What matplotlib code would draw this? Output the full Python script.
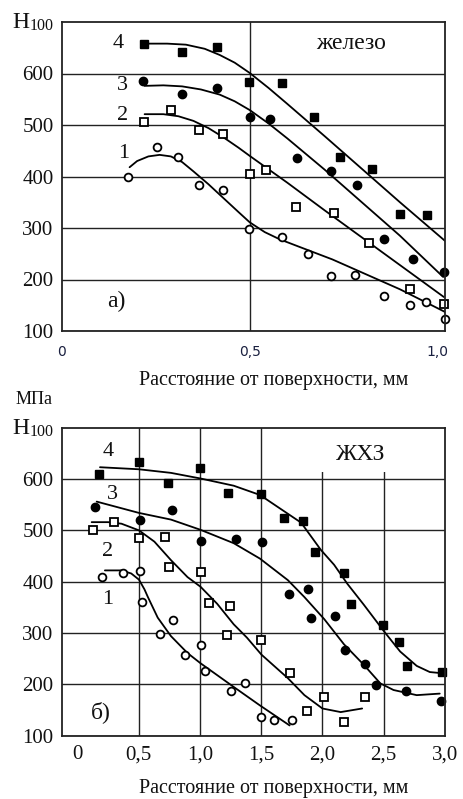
import matplotlib
matplotlib.use("Agg")
import matplotlib.pyplot as plt
from matplotlib.patches import Rectangle

# ---------------- Panel a) железо ----------------
a_x4 = [0.218, 0.319, 0.412, 0.498, 0.586, 0.672, 0.741, 0.825, 0.899, 0.972]
a_y4 = [657, 642, 651, 583, 582, 516, 437, 414, 328, 326]
a_x3 = [0.216, 0.319, 0.412, 0.500, 0.555, 0.627, 0.717, 0.786, 0.857, 0.936, 1.017]
a_y3 = [586, 561, 571, 516, 512, 436, 411, 383, 279, 240, 214]
a_x2 = [0.218, 0.289, 0.365, 0.429, 0.500, 0.542, 0.624, 0.724, 0.817, 0.926, 1.017]
a_y2 = [506, 529, 490, 482, 405, 413, 340, 329, 270, 181, 152]
a_x1 = [0.177, 0.253, 0.309, 0.364, 0.430, 0.497, 0.586, 0.655, 0.717, 0.779, 0.857, 0.927, 0.970, 1.020]
a_y1 = [400, 458, 438, 383, 373, 298, 282, 249, 207, 209, 167, 150, 156, 124]

a_c4x = [0.22, 0.28, 0.33, 0.38, 0.42, 0.46, 0.50, 0.55, 0.60, 0.70, 0.80, 0.90, 1.02]
a_c4y = [658, 658, 656, 648, 636, 621, 601, 572, 541, 478, 414, 350, 275]
a_c3x = [0.22, 0.27, 0.32, 0.37, 0.42, 0.46, 0.50, 0.55, 0.60, 0.70, 0.80, 0.90, 1.015]
a_c3y = [576, 577, 575, 569, 559, 546, 529, 503, 474, 413, 349, 285, 205]
a_c2x = [0.22, 0.27, 0.31, 0.35, 0.39, 0.43, 0.47, 0.50, 0.55, 0.60, 0.70, 0.80, 0.90, 1.017]
a_c2y = [521, 521, 517, 508, 494, 476, 456, 440, 414, 388, 334, 281, 228, 166]
a_c1x = [0.18, 0.20, 0.23, 0.26, 0.29, 0.32, 0.35, 0.39, 0.43, 0.47, 0.50, 0.54, 0.58, 0.63, 0.72, 0.81, 0.90, 1.02]
a_c1y = [418, 430, 439, 442, 439, 428, 410, 385, 358, 331, 311, 292, 278, 264, 239, 210, 181, 137]

a_xticks = [0, 0.5, 1.0]
a_xticklabels = ["0", "0,5", "1,0"]
a_xgrid = [0.5]
yticks = [100, 200, 300, 400, 500, 600]

# ---------------- Panel б) ЖХЗ ----------------
b_x4 = [0.174, 0.505, 0.742, 1.004, 1.227, 1.502, 1.683, 1.845, 1.939, 2.176, 2.235, 2.492, 2.621, 2.688, 2.977]
b_y4 = [609, 633, 593, 622, 572, 570, 525, 519, 457, 417, 357, 315, 283, 236, 225]
b_x3 = [0.147, 0.511, 0.772, 1.006, 1.295, 1.508, 1.726, 1.885, 1.906, 2.104, 2.181, 2.351, 2.440, 2.682, 2.971]
b_y3 = [545, 521, 540, 480, 484, 477, 376, 386, 329, 333, 266, 240, 198, 188, 168]
b_x2 = [0.131, 0.301, 0.505, 0.713, 0.748, 1.012, 1.071, 1.243, 1.222, 1.500, 1.736, 1.877, 2.009, 2.176, 2.346]
b_y2 = [501, 516, 486, 488, 429, 418, 359, 353, 296, 287, 222, 149, 175, 126, 175]
b_x1 = [0.204, 0.370, 0.511, 0.527, 0.675, 0.780, 0.875, 1.009, 1.039, 1.251, 1.368, 1.502, 1.605, 1.753]
b_y1 = [409, 417, 421, 361, 299, 326, 257, 277, 226, 188, 203, 137, 130, 130]

b_c4x = [0.185, 0.503, 0.764, 1.006, 1.276, 1.49, 1.664, 1.826, 1.987, 2.095, 2.203, 2.338, 2.5, 2.634, 2.769, 2.876, 2.963]
b_c4y = [623, 619, 612, 601, 587, 569, 541, 515, 462, 433, 396, 355, 304, 264, 236, 224, 222]
b_c3x = [0.158, 0.503, 0.764, 1.006, 1.276, 1.49, 1.718, 1.853, 2.015, 2.176, 2.338, 2.472, 2.58, 2.769, 2.957]
b_c3y = [556, 534, 521, 501, 475, 445, 403, 370, 327, 278, 238, 202, 189, 179, 182]
b_c2x = [0.117, 0.252, 0.36, 0.503, 0.629, 0.764, 0.899, 1.006, 1.141, 1.276, 1.384, 1.502, 1.718, 1.853, 2.0, 2.149, 2.324]
b_c2y = [516, 516, 513, 500, 478, 442, 409, 390, 357, 317, 291, 258, 212, 179, 153, 146, 153]
b_c1x = [0.225, 0.36, 0.44, 0.503, 0.548, 0.576, 0.656, 0.764, 0.899, 1.006, 1.141, 1.276, 1.49, 1.732]
b_c1y = [422, 422, 416, 404, 385, 370, 330, 294, 261, 241, 218, 195, 159, 120]

b_xticks = [0, 0.5, 1.0, 1.5, 2.0, 2.5, 3.0]
b_xticklabels = ["0", "0,5", "1,0", "1,5", "2,0", "2,5", "3,0"]
b_xgrid = [0.5, 1.0, 1.5, 2.0, 2.5]

SERIF = "Liberation Serif"
INK = "#111111"
GRID = "#222222"

fig = plt.figure(figsize=(4.64, 7.99), dpi=100)

def style_axes(ax, xgrid):
    ax.set_ylim(100, 700)
    ax.set_yticks(yticks)
    ax.set_yticklabels([str(v) for v in yticks], fontfamily=SERIF, fontsize=15, color=INK)
    ax.tick_params(axis="both", length=0)
    ax.tick_params(axis="y", pad=6)
    for s in ax.spines.values():
        s.set_color(GRID)
        s.set_linewidth(1.3)
        s.set_zorder(6)
    ax.grid(True, axis="y", color=GRID, linewidth=1.0, zorder=1)
    for gx in xgrid:
        ax.axvline(gx, color=GRID, linewidth=1.0, zorder=1)
    ax.set_axisbelow(True)

def draw_series(ax, xs, ys, kind):
    if kind == 4:
        ax.plot(xs, ys, ls="none", marker="s", ms=6.0, mfc="black", mec="black", zorder=4, clip_on=False)
    elif kind == 3:
        ax.plot(xs, ys, ls="none", marker="o", ms=6.0, mfc="black", mec="black", zorder=4, clip_on=False)
    elif kind == 2:
        ax.plot(xs, ys, ls="none", marker="s", ms=5.6, mfc="white", mec="black", mew=1.3, zorder=4, clip_on=False)
    else:
        ax.plot(xs, ys, ls="none", marker="o", ms=5.6, mfc="white", mec="black", mew=1.3, zorder=4, clip_on=False)

# ---- top panel ----
ax1 = fig.add_axes([62 / 464, 1 - 331 / 799, 383 / 464, 309 / 799])
style_axes(ax1, a_xgrid)
ax1.set_xlim(0, 1.02)
ax1.set_xticks([])
for c_x, c_y in [(a_c4x, a_c4y), (a_c3x, a_c3y), (a_c2x, a_c2y), (a_c1x, a_c1y)]:
    ax1.plot(c_x, c_y, color="black", lw=1.3, zorder=3, solid_capstyle="round", solid_joinstyle="round")
for xs, ys, k in [(a_x4, a_y4, 4), (a_x3, a_y3, 3), (a_x2, a_y2, 2), (a_x1, a_y1, 1)]:
    draw_series(ax1, xs, ys, k)
for t, x, y in [("4", 0.149, 658), ("3", 0.161, 576), ("2", 0.161, 519), ("1", 0.165, 445)]:
    ax1.text(x, y, t, fontfamily=SERIF, fontsize=16, ha="center", va="center", color=INK)
ax1.text(0.77, 658, "железо", fontfamily=SERIF, fontsize=17, ha="center", va="center", color=INK)
ax1.text(0.144, 158, "а)", fontfamily=SERIF, fontsize=17, ha="center", va="center", color=INK)
for v, lab in zip(a_xticks, a_xticklabels):
    ax1.annotate(lab, xy=(v, 100), xycoords="data", xytext=(0, -21), textcoords="offset pixels",
                 ha="center", va="center", fontfamily="DejaVu Sans", fontsize=10, color="#1a2040")
fig.text(274 / 464, 1 - 381 / 799, "Расстояние от поверхности, мм", fontfamily=SERIF, fontsize=14.5,
         ha="center", va="center", color=INK)
fig.text(12 / 464, 1 - 22 / 799, "Н", fontfamily=SERIF, fontsize=17, ha="left", va="center", color=INK)
fig.text(30 / 464, 1 - 26 / 799, "100", fontfamily=SERIF, fontsize=11.5, ha="left", va="center", color=INK)

# ---- bottom panel ----
ax2 = fig.add_axes([62 / 464, 1 - 735.7 / 799, 383 / 464, 308 / 799])
style_axes(ax2, b_xgrid)
ax2.set_xlim(-0.125, 2.975)
ax2.set_xticks(b_xticks)
ax2.set_xticklabels(b_xticklabels, fontfamily=SERIF, fontsize=15, color=INK)
ax2.tick_params(axis="x", pad=7)
ax2.add_patch(Rectangle((1.75, 613), 1.3, 100, facecolor="white", edgecolor="none", zorder=2))
for c_x, c_y in [(b_c4x, b_c4y), (b_c3x, b_c3y), (b_c2x, b_c2y), (b_c1x, b_c1y)]:
    ax2.plot(c_x, c_y, color="black", lw=1.3, zorder=3, solid_capstyle="round", solid_joinstyle="round")
for xs, ys, k in [(b_x4, b_y4, 4), (b_x3, b_y3, 3), (b_x2, b_y2, 2), (b_x1, b_y1, 1)]:
    draw_series(ax2, xs, ys, k)
for t, x, y in [("4", 0.249, 654), ("3", 0.285, 570), ("2", 0.244, 459), ("1", 0.247, 366)]:
    ax2.text(x, y, t, fontfamily=SERIF, fontsize=16, ha="center", va="center", color=INK)
ax2.text(2.31, 647, "ЖХЗ", fontfamily=SERIF, fontsize=17, ha="center", va="center", color=INK, zorder=5)
ax2.text(0.192, 146, "б)", fontfamily=SERIF, fontsize=17, ha="center", va="center", color=INK)
fig.text(274 / 464, 1 - 788 / 799, "Расстояние от поверхности, мм", fontfamily=SERIF, fontsize=14.5,
         ha="center", va="center", color=INK)
fig.text(16 / 464, 1 - 399 / 799, "МПа", fontfamily=SERIF, fontsize=13, ha="left", va="center", color=INK)
fig.text(12 / 464, 1 - 428 / 799, "Н", fontfamily=SERIF, fontsize=17, ha="left", va="center", color=INK)
fig.text(30 / 464, 1 - 432 / 799, "100", fontfamily=SERIF, fontsize=11.5, ha="left", va="center", color=INK)

fig.savefig("out.png", dpi=100)
